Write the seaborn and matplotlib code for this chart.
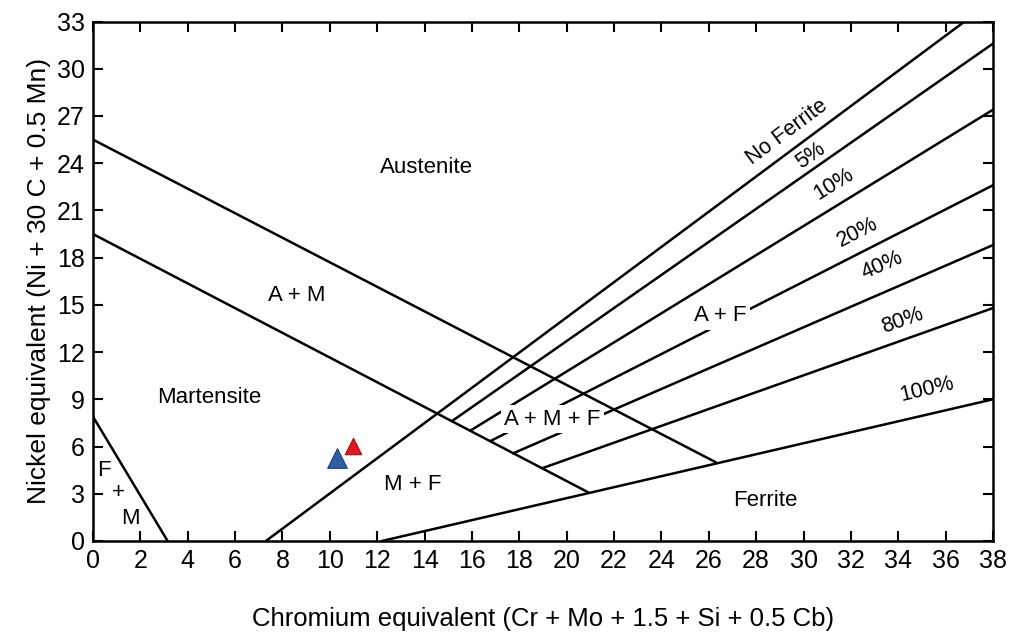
import numpy as np
import pandas as pd
import matplotlib
matplotlib.use("Agg")
import matplotlib.pyplot as plt
import seaborn as sns

# ---- Data: constitution diagram lines (Cr_eq, Ni_eq end points) ----
line_names = ["A+M upper", "A+M lower", "F+M", "No Ferrite", "5%", "10%", "20%", "40%", "80%", "100%"]
x_start = [0.0, 0.0, 0.0, 7.3, 15.15, 15.92, 16.77, 17.74, 18.96, 12.2]
y_start = [25.5, 19.5, 7.9, 0.0, 7.61, 7.00, 6.34, 5.57, 4.62, 0.0]
x_end = [26.3, 20.9, 3.15, 36.8, 38.0, 38.0, 38.0, 38.0, 38.0, 38.0]
y_end = [5.0, 3.1, 0.0, 33.0, 31.6, 27.4, 22.6, 18.8, 14.8, 9.0]

# region labels
region_labels = ["Austenite", "A + M", "Martensite", "A + M + F", "M + F", "Ferrite", "A + F", "F", "+", "M"]
region_x = [14.1, 8.6, 4.9, 19.4, 13.5, 28.4, 26.5, 0.46, 1.06, 1.56]
region_y = [23.7, 15.6, 9.1, 7.75, 3.6, 2.6, 14.3, 4.5, 3.05, 1.46]
region_boxed = ["A + M + F", "A + F"]

# ferrite-percentage labels
line_label_text = ["No Ferrite", "5%", "10%", "20%", "40%", "80%", "100%"]
line_label_x = [29.3, 30.3, 31.3, 32.3, 33.3, 34.2, 35.2]
line_label_y = [26.0, 24.5, 22.7, 19.6, 17.5, 14.0, 9.6]

# sample points
sample_names = ["Sample A", "Sample B"]
sample_cr = [10.32, 10.98]
sample_ni = [5.25, 6.04]
sample_colors = ["#2f5ea8", "#e8141b"]
sample_edges = ["#1d3f7a", "#9a0f12"]
sample_sizes = [200, 140]

x_ticks = list(range(0, 39, 2))
y_ticks = list(range(0, 34, 3))
x_label = "Chromium equivalent (Cr + Mo + 1.5 + Si + 0.5 Cb)"
y_label = "Nickel equivalent (Ni + 30 C + 0.5 Mn)"

# ---- Plot ----
sns.set_style("ticks")
plt.rcParams["font.family"] = ["Liberation Sans", "DejaVu Sans"]
for key in ["text.color", "axes.labelcolor", "xtick.color", "ytick.color", "axes.edgecolor"]:
    plt.rcParams[key] = "black"

fig = plt.figure(figsize=(10.12, 6.34), dpi=100)
ax = fig.add_axes([0.0919, 0.1467, 0.8893, 0.8193])

rows = []
for n, xs, ys, xe, ye in zip(line_names, x_start, y_start, x_end, y_end):
    rows.append({"line": n, "x": xs, "y": ys})
    rows.append({"line": n, "x": xe, "y": ye})
df = pd.DataFrame(rows)

sns.lineplot(data=df, x="x", y="y", units="line", estimator=None, sort=False,
             color="black", linewidth=1.8, ax=ax, legend=False)

for i in range(len(sample_names)):
    sns.scatterplot(x=[sample_cr[i]], y=[sample_ni[i]], marker="^", s=sample_sizes[i],
                    color=sample_colors[i], edgecolor=sample_edges[i], linewidth=0.8,
                    ax=ax, legend=False, zorder=5)

ax.set_xlim(0, 38)
ax.set_ylim(0, 33)

for t, x, y in zip(region_labels, region_x, region_y):
    kw = {}
    if t in region_boxed:
        kw["bbox"] = dict(facecolor="white", edgecolor="none", pad=2.5)
    ax.text(x, y, t, ha="center", va="center", fontsize=16, zorder=4, **kw)

for t, x, y in zip(line_label_text, line_label_x, line_label_y):
    k = line_names.index(t)
    ang = np.degrees(np.arctan2(y_end[k] - y_start[k], x_end[k] - x_start[k]))
    ax.text(x, y, t, ha="center", va="center", fontsize=15.5, rotation=ang,
            rotation_mode="anchor", transform_rotates_text=True, zorder=4)

ax.set_xticks(x_ticks)
ax.set_yticks(y_ticks)
ax.tick_params(direction="in", top=True, right=True, length=7, width=1.5,
               labelsize=18, pad=6)
for s in ax.spines.values():
    s.set_linewidth(1.8)
    s.set_color("black")

ax.set_xlabel(x_label, fontsize=18.5, labelpad=24)
ax.set_ylabel(y_label, fontsize=19, labelpad=4)

fig.savefig("out.png", dpi=100)
